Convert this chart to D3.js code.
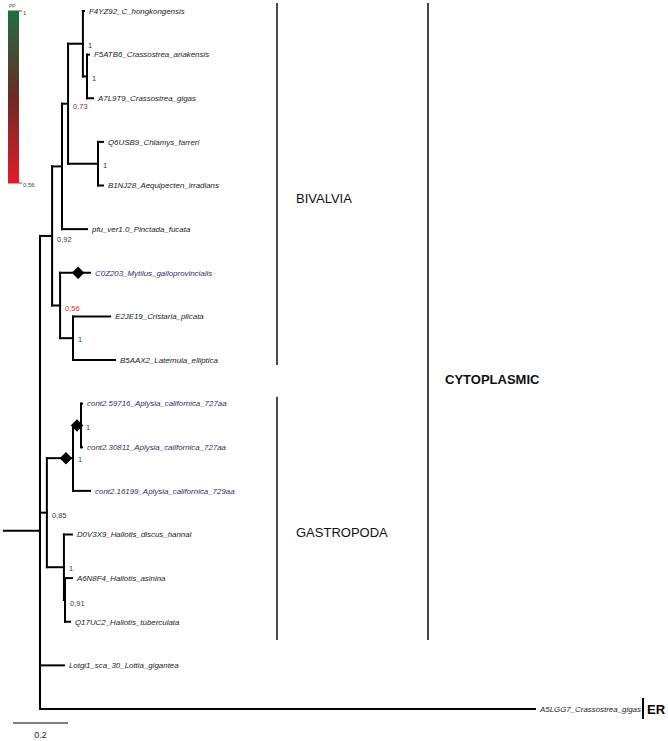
<!DOCTYPE html>
<html>
<head>
<meta charset="utf-8">
<script src="https://cdn.jsdelivr.net/npm/d3@7/dist/d3.min.js"></script>
<style>
  html, body { margin: 0; padding: 0; background: #fff; }
  svg { display: block; font-family: Arial, "Liberation Sans", sans-serif; }
</style>
</head>
<body>
<svg id="chart" width="668" height="741"></svg>
<script>
// ---------------- DATA ----------------
const nodeIds = ["root","F","E","C","A","F4YZ92_C_hongkongensis","B","F5ATB6_Crassostrea_ariakensis","A7L9T9_Crassostrea_gigas",
  "D","Q6USB9_Chlamys_farreri","B1NJ28_Aequipecten_irradians","pfu_ver1.0_Pinctada_fucata",
  "G","C0Z203_Mytilus_galloprovincialis","H","E2JE19_Cristaria_plicata","B5AAX2_Laternula_elliptica",
  "J","K","L","cont2.59716_Aplysia_californica_727aa","cont2.30811_Aplysia_californica_727aa","cont2.16199_Aplysia_californica_729aa",
  "M","D0V3X9_Haliotis_discus_hannai","N","A6N8F4_Haliotis_asinina","Q17UC2_Haliotis_tuberculata",
  "Lotgi1_sca_30_Lottia_gigantea","A5LGG7_Crassostrea_gigas"];
const parentIds = [null,"root","F","E","C","A","A","B","B",
  "C","D","D","E",
  "F","G","G","H","H",
  "root","J","K","L","L","K",
  "J","M","M","N","N",
  "root","root"];
const branchLengths = [0,0.044,0.036,0.022,0.054,0.004,0.015,0.007,0.022,
  0.109,0.018,0.018,0.091,
  0.029,0.109,0.047,0.135,0.153,
  0.025,0.095,0.029,0.004,0.004,0.062,
  0.062,0.029,0.004,0.025,0.018,
  0.087,1.8];
const supports = [null,0.92,null,0.73,1,null,1,null,null,
  1,null,null,null,
  0.56,null,1,null,null,
  0.85,1,1,null,null,null,
  1,null,0.91,null,null,
  null,null];
const rootBranch = 0.135;
// nodes whose incoming branch carries a diamond marker, with position along the branch
const markerNodes = ["C0Z203_Mytilus_galloprovincialis","K","L"];
const markerFractions = [0.6, 0.73, 0.5];
// highlighted (blue) tip labels
const blueTips = ["C0Z203_Mytilus_galloprovincialis","cont2.59716_Aplysia_californica_727aa","cont2.30811_Aplysia_californica_727aa","cont2.16199_Aplysia_californica_729aa"];
// clade annotations
const cladeNames = ["BIVALVIA","GASTROPODA","CYTOPLASMIC"];
const cladeFirstLeaf = [0, 9, 0];
const cladeLastLeaf = [8, 14, 14];
const cladeLabelLeaf = [4.3, 11.95, 8.45];
const erLabel = "ER";
const ppDomain = [0.56, 1];
const ppTickLabels = ["1", "0,56"];
const scaleBarValue = 0.2;

// ---------------- LAYOUT ----------------
const svg = d3.select("#chart");

const table = nodeIds.map((id, i) => ({id, parent: parentIds[i], len: branchLengths[i], pp: supports[i]}));
const root = d3.stratify().id(d => d.id).parentId(d => d.parent)(table);

root.each(n => { n.depth2 = n.parent ? n.parent.depth2 + n.data.len : 0; });
const leaves = root.leaves();

const x = d3.scaleLinear().domain([0, 1.8]).range([40, 535]);
const y = d3.scaleLinear().domain([0, leaves.length - 1]).range([11, 709]);

leaves.forEach((l, i) => { l.yy = y(i); });
root.eachAfter(n => {
  if (n.children) n.yy = d3.mean(n.children, c => c.yy);
  n.xx = x(n.depth2);
});

// ---------------- DRAW ----------------
const g = svg.append("g");

g.append("line")
  .attr("x1", x(-rootBranch)).attr("x2", x(0))
  .attr("y1", root.yy).attr("y2", root.yy)
  .attr("stroke", "#000").attr("stroke-width", 2);

const links = root.descendants().filter(n => n.parent);
g.selectAll("line.h").data(links).join("line")
  .attr("class", "h")
  .attr("x1", d => d.parent.xx).attr("x2", d => d.xx)
  .attr("y1", d => d.yy).attr("y2", d => d.yy)
  .attr("stroke", "#000").attr("stroke-width", 2).attr("stroke-linecap", "square");

const internals = root.descendants().filter(n => n.children);
g.selectAll("line.v").data(internals).join("line")
  .attr("class", "v")
  .attr("x1", d => d.xx).attr("x2", d => d.xx)
  .attr("y1", d => d3.min(d.children, c => c.yy))
  .attr("y2", d => d3.max(d.children, c => c.yy))
  .attr("stroke", "#000").attr("stroke-width", 2).attr("stroke-linecap", "square");

const markerData = markerNodes.map((id, i) => {
  const n = root.find(d => d.id === id);
  return {x: n.parent.xx + (n.xx - n.parent.xx) * markerFractions[i], y: n.yy};
});
g.selectAll("path.mk").data(markerData).join("path")
  .attr("class", "mk")
  .attr("d", d3.symbol(d3.symbolSquare, 78)())
  .attr("transform", d => `translate(${d.x},${d.y}) rotate(45)`)
  .attr("fill", "#000");

g.selectAll("text.tip").data(leaves).join("text")
  .attr("class", "tip")
  .attr("x", d => d.xx + 5)
  .attr("y", d => d.yy)
  .attr("dy", "0.35em")
  .attr("font-size", 7.9)
  .attr("font-style", "italic")
  .attr("fill", d => blueTips.includes(d.id) ? "#2e2e66" : "#222")
  .text(d => d.id);

const ppColor = d3.scaleLinear().domain([0.56, 0.73, 0.85, 1])
  .range(["#e3262e", "#8e2e2e", "#404040", "#383838"]);
const supportNodes = internals.filter(n => n.data.pp != null);
g.selectAll("text.pp").data(supportNodes).join("text")
  .attr("class", "pp")
  .attr("x", d => d.xx + 5)
  .attr("y", d => d.yy + (d.data.pp < 1 ? 3 : 1.5))
  .attr("dy", "0.35em")
  .attr("font-size", 7.5)
  .attr("fill", d => ppColor(d.data.pp))
  .text(d => String(d.data.pp).replace(".", ","));

const bracketX = [277, 277, 428];
const padTop = [-8, -7, -8];
const bottomY = 640;
cladeNames.forEach((name, i) => {
  const y0 = y(cladeFirstLeaf[i]) + padTop[i];
  const y1 = i === 0 ? y(cladeLastLeaf[i]) + 5 : bottomY;
  svg.append("line")
    .attr("x1", bracketX[i]).attr("x2", bracketX[i])
    .attr("y1", y0).attr("y2", y1)
    .attr("stroke", i === 2 ? "#444" : "#111")
    .attr("stroke-width", i === 2 ? 2 : 1.5);
  svg.append("text")
    .attr("x", i === 2 ? 445 : 296)
    .attr("y", y(cladeLabelLeaf[i]))
    .attr("dy", "0.35em")
    .attr("font-size", 13)
    .attr("font-weight", i === 2 ? "bold" : "normal")
    .attr("fill", "#111")
    .text(name);
});

const erY = leaves[leaves.length - 1].yy;
svg.append("line").attr("x1", 643).attr("x2", 643)
  .attr("y1", erY - 11).attr("y2", erY + 10)
  .attr("stroke", "#000").attr("stroke-width", 2);
svg.append("text").attr("x", 647).attr("y", erY).attr("dy", "0.36em")
  .attr("font-size", 13).attr("font-weight", "bold").attr("fill", "#000").text(erLabel);

const sbX0 = 13;
const sbLen = x(scaleBarValue) - x(0);
svg.append("line").attr("x1", sbX0).attr("x2", sbX0 + sbLen)
  .attr("y1", 723).attr("y2", 723).attr("stroke", "#000").attr("stroke-width", 1.2);
svg.append("text").attr("x", sbX0 + sbLen / 2).attr("y", 735).attr("dy", "0.35em")
  .attr("text-anchor", "middle").attr("font-size", 9).attr("fill", "#222")
  .text(String(scaleBarValue));

const defs = svg.append("defs");
const grad = defs.append("linearGradient").attr("id", "ppgrad")
  .attr("x1", 0).attr("x2", 0).attr("y1", 0).attr("y2", 1);
grad.append("stop").attr("offset", "0%").attr("stop-color", "#1f6e43");
grad.append("stop").attr("offset", "50%").attr("stop-color", "#6a2a25");
grad.append("stop").attr("offset", "100%").attr("stop-color", "#e01e2b");
const ly = d3.scaleLinear().domain(ppDomain).range([183, 11]);
svg.append("rect").attr("x", 8).attr("y", ly(1)).attr("width", 11)
  .attr("height", ly(ppDomain[0]) - ly(1)).attr("fill", "url(#ppgrad)");
svg.append("line").attr("x1", 8).attr("x2", 22).attr("y1", ly(1)).attr("y2", ly(1))
  .attr("stroke", "#1f6e43").attr("stroke-width", 1);
svg.append("line").attr("x1", 8).attr("x2", 22).attr("y1", ly(ppDomain[0])).attr("y2", ly(ppDomain[0]))
  .attr("stroke", "#e01e2b").attr("stroke-width", 1);
svg.append("text").attr("x", 9).attr("y", 6).attr("dy", "0.35em")
  .attr("font-size", 5).attr("fill", "#555").text("PP");
svg.append("text").attr("x", 23).attr("y", ly(1) + 2).attr("dy", "0.35em")
  .attr("font-size", 6).attr("fill", "#444").text(ppTickLabels[0]);
svg.append("text").attr("x", 23).attr("y", ly(ppDomain[0]) + 2).attr("dy", "0.35em")
  .attr("font-size", 6).attr("fill", "#444").text(ppTickLabels[1]);
</script>
</body>
</html>
